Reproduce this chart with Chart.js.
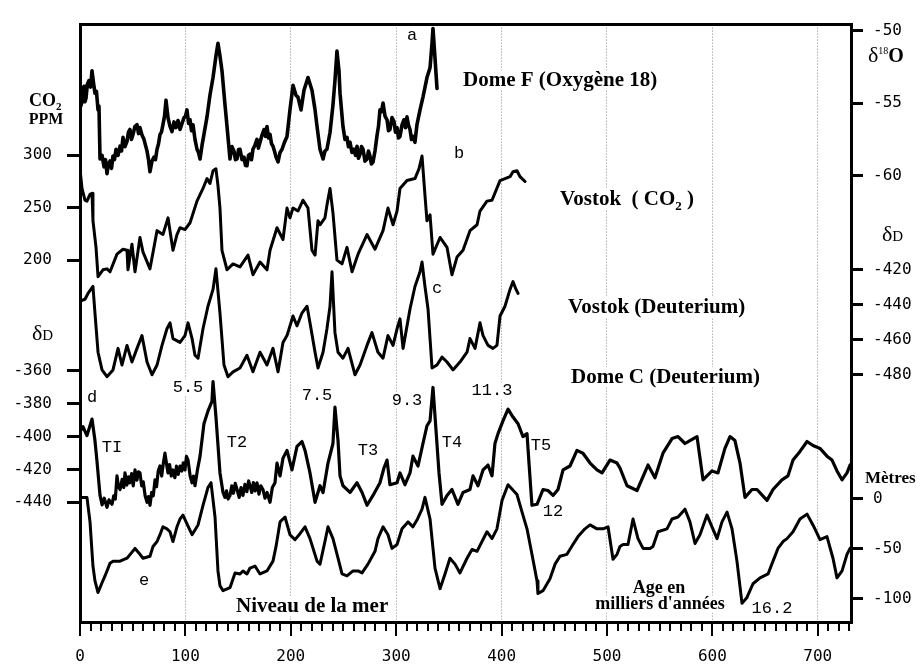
<!DOCTYPE html>
<html>
<head>
<meta charset="utf-8">
<script src="https://cdn.jsdelivr.net/npm/chart.js@4.4.1/dist/chart.umd.min.js"></script>
<style>
  html, body { margin: 0; padding: 0; background: #fff; }
  #wrap { width: 917px; height: 665px; position: relative; }
</style>
</head>
<body>
<div id="wrap"><canvas id="chart"></canvas></div>
<script>
// Series: [age in ka, value]
// a - Dome F, delta 18O (permil)
const domeF = [[0,-54.12],[0.8,-55.2],[1.9,-54.93],[2.8,-54.0],[3.8,-53.85],[4.7,-54.9],[5.7,-54.66],[7.0,-53.7],[8.5,-53.45],[10.0,-53.9],[11.4,-52.77],[12.8,-53.6],[14.2,-54.32],[15.6,-54.2],[17.1,-55.47],[18.0,-55.2],[19.0,-58.85],[20.9,-58.6],[22.8,-59.39],[24.2,-58.9],[25.6,-59.86],[27.0,-59.2],[28.5,-58.99],[29.9,-59.5],[31.3,-58.65],[32.7,-58.9],[34.2,-58.18],[36.1,-58.6],[38.0,-57.97],[39.4,-58.3],[40.8,-57.36],[42.7,-58.0],[44.6,-57.64],[46.0,-57.0],[47.4,-56.82],[48.8,-57.5],[50.3,-57.16],[52.2,-56.6],[54.1,-56.49],[55.5,-57.1],[56.9,-56.69],[58.8,-57.2],[60.7,-57.50],[62.1,-57.9],[63.6,-58.31],[65.0,-58.9],[66.4,-59.73],[68.3,-59.0],[70.2,-58.72],[71.6,-58.9],[73.1,-58.18],[74.5,-57.8],[75.9,-57.16],[77.3,-57.0],[78.7,-56.49],[80.2,-55.9],[81.6,-54.80],[83.5,-56.01],[85.4,-56.6],[87.3,-56.96],[89.2,-56.3],[91.1,-56.69],[93.0,-56.2],[94.9,-56.82],[96.8,-56.4],[98.7,-56.01],[100.1,-55.9],[101.5,-55.47],[103.0,-56.4],[104.4,-56.15],[105.8,-56.9],[107.2,-56.49],[109.1,-57.5],[111.0,-58.18],[112.4,-58.4],[113.9,-58.85],[115.8,-57.9],[117.6,-57.16],[120.5,-55.95],[123.3,-54.46],[126.2,-53.24],[129.0,-51.76],[130.9,-50.88],[132.8,-51.76],[134.7,-52.77],[137.6,-55.14],[139.5,-56.62],[142.3,-58.85],[144.2,-58.0],[146.1,-58.31],[147.5,-58.9],[149.0,-58.85],[150.4,-58.2],[151.8,-58.18],[153.7,-58.9],[155.6,-58.72],[157.0,-59.3],[158.4,-59.32],[159.9,-58.6],[161.3,-58.51],[162.7,-58.9],[164.1,-58.18],[166.0,-57.9],[167.9,-57.50],[169.3,-58.1],[170.8,-57.70],[172.7,-57.2],[174.6,-56.82],[176.0,-57.3],[177.4,-56.62],[178.9,-57.4],[180.3,-57.16],[181.7,-57.8],[183.1,-57.97],[184.5,-58.3],[186.0,-58.72],[187.9,-59.05],[189.8,-58.4],[191.7,-58.18],[194.0,-57.7],[196.4,-57.30],[199.2,-55.47],[202.1,-53.78],[204.9,-54.46],[206.8,-54.59],[209.7,-55.47],[212.5,-54.12],[216.3,-53.24],[220.1,-54.12],[223.0,-55.47],[224.9,-56.62],[227.7,-58.18],[230.6,-58.85],[232.4,-58.3],[234.3,-58.18],[237.2,-57.03],[240.0,-55.14],[241.9,-53.45],[243.8,-51.42],[245.7,-52.77],[246.7,-54.32],[249.5,-56.62],[251.4,-57.5],[253.3,-57.36],[254.7,-58.0],[256.2,-57.70],[258.0,-58.4],[259.9,-58.18],[261.4,-58.6],[262.8,-57.97],[264.2,-58.8],[265.7,-58.51],[267.1,-58.0],[268.5,-58.18],[270.4,-59.0],[272.3,-58.85],[273.7,-58.3],[275.1,-58.65],[276.5,-59.2],[278.0,-59.05],[279.9,-58.3],[281.8,-57.23],[283.2,-56.6],[284.6,-55.47],[286.0,-55.6],[287.5,-55.00],[289.4,-55.9],[291.3,-56.15],[292.7,-56.9],[294.1,-56.82],[296.0,-56.0],[297.9,-56.28],[299.3,-57.0],[300.8,-56.69],[302.2,-57.4],[303.6,-57.30],[305.5,-56.5],[307.4,-56.15],[308.8,-56.7],[310.2,-55.95],[311.6,-56.5],[313.1,-56.82],[314.5,-57.5],[315.9,-57.30],[317.8,-57.70],[319.7,-56.49],[322.6,-55.47],[325.4,-54.59],[329.2,-53.24],[332.1,-52.57],[333.9,-50.95],[334.9,-49.86],[336.8,-51.89],[338.7,-53.99]];

// b - Vostok CO2 (ppm)
const vostokCO2 = [[0,286.9],[1.9,268.2],[4.7,257.0],[6.6,256.1],[9.5,262.6],[11.4,263.6],[12.3,237.4],[15.2,212.1],[17.1,184.1],[21.8,190.7],[25.6,191.6],[28.5,188.8],[35.1,205.6],[40.8,210.3],[44.6,209.3],[45.5,190.7],[49.3,215.0],[52.2,188.8],[56.9,221.5],[59.8,207.5],[66.4,191.6],[73.1,228.0],[78.7,224.3],[83.5,240.2],[88.2,209.3],[92.0,224.3],[94.9,230.8],[99.6,229.0],[104.4,235.5],[111.0,256.1],[116.7,268.2],[120.5,277.6],[123.3,272.9],[126.2,285.0],[129.0,286.9],[130.9,271.0],[132.8,249.5],[134.7,209.3],[139.5,190.7],[145.2,196.3],[151.8,193.5],[159.4,204.7],[164.1,186.0],[170.8,198.1],[177.4,190.7],[180.3,209.3],[186.9,230.8],[192.6,219.6],[196.4,249.5],[199.2,240.2],[202.1,249.5],[206.8,246.7],[211.6,257.0],[216.3,249.5],[220.1,209.3],[223.0,204.7],[225.8,237.4],[227.7,233.6],[232.4,240.2],[234.3,252.3],[237.2,268.2],[240.0,244.9],[243.8,200.0],[248.6,196.3],[253.3,212.1],[258.1,188.8],[263.8,205.6],[272.3,224.3],[279.9,210.3],[287.5,228.0],[292.2,249.5],[297.0,233.6],[300.8,246.7],[303.6,268.2],[310.2,275.7],[317.8,277.6],[321.6,286.9],[324.5,299.1],[327.3,261.7],[329.2,237.4],[332.1,243.0],[334.9,205.6],[341.6,221.5],[348.2,212.1],[352.9,186.0],[357.7,202.8],[363.4,209.3],[370.0,228.0],[376.7,233.6],[379.5,246.7],[386.1,256.1],[390.9,257.0],[398.5,275.7],[408.0,279.4],[410.8,284.1],[414.6,285.0],[417.5,279.4],[422.2,274.8]];

// c - Vostok deuterium (permil)
const vostokDD = [[0,-437.9],[4.7,-436.8],[7.6,-433.5],[12.3,-429.5],[14.2,-444.7],[17.1,-467.1],[20.9,-477.2],[25.6,-481.1],[31.3,-477.2],[36.1,-464.9],[39.8,-474.4],[44.6,-463.2],[49.3,-472.7],[54.1,-464.9],[58.8,-457.6],[63.6,-472.7],[68.3,-480.0],[73.1,-474.4],[77.8,-463.2],[82.5,-453.7],[85.4,-450.3],[88.2,-459.3],[94.9,-461.5],[99.6,-457.6],[102.5,-450.3],[106.3,-459.3],[109.1,-468.8],[112.0,-470.5],[116.7,-453.7],[121.4,-440.8],[126.2,-431.2],[129.0,-419.4],[132.8,-444.7],[136.6,-474.4],[140.4,-481.1],[145.2,-478.3],[151.8,-476.1],[158.4,-468.8],[164.1,-478.3],[170.8,-467.1],[177.4,-474.4],[183.1,-464.9],[187.9,-478.3],[192.6,-461.5],[196.4,-457.6],[202.1,-446.4],[205.9,-452.0],[210.6,-444.7],[215.4,-440.8],[218.2,-450.3],[223.0,-467.1],[225.8,-476.1],[230.6,-467.1],[234.3,-453.7],[237.2,-440.8],[239.1,-421.1],[241.9,-455.9],[244.8,-467.1],[249.5,-470.5],[254.3,-464.9],[260.9,-480.0],[265.7,-474.4],[272.3,-463.2],[277.0,-455.9],[282.7,-467.1],[287.5,-470.5],[292.2,-457.6],[297.0,-463.2],[300.8,-453.7],[303.6,-448.0],[306.5,-464.9],[313.1,-442.4],[317.8,-429.5],[322.6,-421.1],[324.5,-415.5],[327.3,-429.5],[330.2,-442.4],[334.0,-476.1],[338.7,-474.4],[343.5,-469.9],[348.2,-472.7],[353.9,-477.2],[360.5,-472.7],[367.2,-467.1],[370.0,-459.3],[374.8,-464.9],[379.5,-450.3],[382.4,-457.6],[387.1,-463.2],[391.8,-464.9],[395.6,-463.2],[398.5,-446.4],[403.2,-440.8],[408.0,-431.2],[410.8,-426.7],[413.7,-431.2],[415.6,-433.5]];

// d - Dome C deuterium (permil)
const domeCDD = [[0,-397.0],[2.8,-394.0],[6.6,-399.4],[11.4,-389.3],[14.2,-402.4],[16.1,-414.9],[19.0,-435.8],[21.0,-441.5],[23.0,-437.5],[25.6,-443.0],[27.5,-438.5],[30.4,-441.2],[32.0,-436.0],[33.5,-438.0],[35.1,-423.9],[36.5,-430.5],[38.0,-432.2],[40.0,-426.0],[41.5,-431.0],[42.7,-422.1],[44.5,-429.5],[46.0,-424.5],[47.4,-428.1],[49.0,-422.5],[50.5,-430.0],[52.2,-420.3],[54.0,-426.5],[55.5,-421.5],[56.9,-422.1],[58.5,-430.0],[60.0,-427.5],[61.8,-436.0],[63.6,-440.0],[65.0,-436.5],[66.4,-441.8],[68.0,-434.0],[69.5,-436.0],[71.2,-426.3],[72.6,-430.5],[74.2,-421.0],[75.9,-417.9],[77.5,-424.0],[79.0,-416.5],[80.6,-410.1],[82.0,-416.0],[83.5,-422.1],[85.0,-417.0],[86.6,-424.0],[88.2,-420.3],[90.0,-425.0],[91.5,-418.0],[93.2,-423.0],[94.9,-417.9],[96.5,-421.0],[98.0,-416.0],[99.6,-420.3],[101.0,-412.0],[102.5,-414.3],[104.5,-424.0],[106.3,-428.1],[107.7,-424.0],[109.1,-429.9],[111.5,-420.0],[113.9,-411.9],[117.6,-392.2],[121.4,-384.5],[125.2,-378.5],[126.2,-366.6],[129.0,-388.1],[132.8,-422.1],[135.7,-434.0],[137.5,-437.0],[139.0,-433.0],[140.5,-438.0],[142.3,-435.8],[144.0,-430.0],[145.6,-434.5],[147.3,-428.5],[149.0,-432.2],[151.0,-437.0],[152.8,-431.0],[154.6,-435.8],[156.5,-429.0],[158.3,-433.5],[160.0,-427.0],[161.3,-429.9],[163.0,-434.0],[164.5,-428.0],[166.2,-433.0],[167.9,-428.1],[169.8,-435.0],[171.5,-430.0],[173.6,-432.2],[175.5,-437.5],[177.5,-434.0],[180.3,-440.0],[182.5,-431.0],[185.0,-428.1],[186.9,-416.1],[189.8,-423.9],[192.6,-413.1],[196.4,-408.4],[201.1,-420.3],[205.9,-406.0],[210.6,-403.0],[213.5,-408.4],[218.2,-422.1],[223.0,-440.0],[227.7,-429.9],[230.6,-434.0],[235.3,-416.1],[240.0,-404.2],[241.9,-382.1],[244.8,-402.4],[246.7,-423.9],[249.5,-429.9],[256.2,-434.0],[262.8,-428.1],[267.6,-434.0],[272.3,-441.8],[278.0,-435.8],[284.6,-428.1],[288.4,-419.1],[291.3,-414.3],[294.1,-429.3],[300.8,-428.1],[303.6,-422.1],[308.3,-429.3],[313.1,-422.1],[315.9,-411.9],[320.7,-417.9],[325.4,-404.2],[329.2,-393.4],[332.1,-390.4],[334.9,-370.1],[337.8,-396.4],[340.6,-422.1],[343.5,-441.2],[348.2,-435.8],[352.9,-432.2],[358.6,-441.2],[363.4,-434.0],[370.0,-432.2],[372.9,-423.9],[377.6,-429.9],[382.4,-420.3],[387.1,-417.3],[390.9,-423.9],[393.7,-404.2],[396.6,-398.2],[401.3,-390.4],[406.1,-383.3],[410.8,-388.1],[415.6,-392.2],[420.3,-400.0],[424.1,-398.2],[426.0,-416.1],[428.8,-441.8],[433.6,-441.2],[439.3,-432.2],[444.0,-432.8],[448.8,-435.8],[453.5,-432.2],[458.3,-420.3],[464.9,-417.9],[471.5,-408.4],[477.2,-410.1],[483.9,-416.1],[490.5,-420.3],[495.3,-422.1],[502.8,-414.3],[509.5,-416.1],[512.3,-419.1],[519.0,-429.9],[528.5,-432.8],[538.9,-417.3],[545.5,-425.1],[553.1,-410.1],[561.7,-401.2],[567.4,-400.0],[574.0,-404.2],[578.7,-402.4],[585.4,-400.0],[591.1,-426.3],[599.6,-420.9],[605.3,-422.1],[611.9,-407.2],[616.7,-400.0],[621.4,-402.4],[626.2,-416.1],[630.9,-437.0],[637.6,-432.2],[642.3,-432.2],[651.8,-438.8],[657.5,-432.2],[666.0,-426.3],[671.7,-423.9],[676.5,-414.3],[683.1,-409.0],[689.8,-403.0],[695.4,-405.4],[702.1,-407.2],[708.7,-411.9],[713.5,-414.3],[718.2,-420.9],[723.0,-426.3],[727.7,-422.1],[730.6,-417.3]];

// e - sea level (m)
const seaLevel = [[0,1.0],[6.6,1.0],[9.5,-23.5],[12.3,-67.6],[14.2,-82.4],[17.1,-94.1],[20.9,-84.3],[23.7,-77.5],[25.6,-72.5],[28.5,-64.7],[31.3,-62.7],[38.0,-62.7],[44.6,-59.8],[48.4,-54.9],[52.2,-50.0],[56.9,-55.9],[59.8,-59.8],[66.4,-57.8],[69.3,-48.0],[73.1,-43.1],[75.9,-36.3],[78.7,-28.4],[82.5,-30.4],[85.4,-33.3],[88.2,-43.1],[92.0,-28.4],[94.9,-20.6],[97.7,-16.7],[101.5,-25.5],[106.3,-36.3],[112.0,-26.5],[116.7,-6.9],[121.4,10.8],[124.3,15.7],[128.1,-18.6],[130.9,-72.5],[132.8,-87.3],[135.7,-92.2],[142.3,-89.2],[147.1,-74.5],[151.8,-75.5],[154.6,-72.5],[158.4,-75.5],[161.3,-69.6],[166.0,-67.6],[170.8,-75.5],[177.4,-72.5],[183.1,-62.7],[186.0,-48.0],[189.8,-23.5],[194.5,-18.6],[199.2,-36.3],[204.0,-41.2],[208.7,-35.3],[213.5,-28.4],[218.2,-40.2],[224.9,-62.7],[227.7,-65.7],[232.4,-43.1],[235.3,-28.4],[240.0,-40.2],[244.8,-59.8],[248.6,-75.5],[253.3,-77.5],[259.0,-72.5],[263.8,-72.5],[267.6,-74.5],[273.2,-65.7],[279.9,-52.9],[282.7,-40.2],[287.5,-28.4],[292.2,-36.3],[296.0,-50.0],[300.8,-46.1],[305.5,-30.4],[311.2,-23.5],[315.9,-28.4],[319.7,-21.6],[324.5,-10.8],[327.3,1.0],[332.1,-20.6],[336.8,-69.6],[341.6,-90.2],[346.3,-75.5],[351.0,-59.8],[355.8,-65.7],[360.5,-74.5],[367.2,-59.8],[371.9,-51.0],[376.7,-52.9],[381.4,-43.1],[386.1,-33.3],[390.9,-40.2],[395.6,-30.4],[400.4,-2.0],[406.1,13.7],[414.6,3.9],[419.4,-13.7],[424.1,-30.4],[428.8,-55.9],[433.6,-82.4],[434.5,-95.1],[439.3,-92.2],[445.9,-80.4],[450.7,-65.7],[455.4,-57.8],[462.0,-55.9],[467.7,-46.1],[472.5,-38.2],[479.1,-30.4],[483.9,-26.5],[490.5,-30.4],[496.2,-30.4],[501.0,-28.4],[505.7,-60.8],[509.5,-55.9],[512.3,-48.0],[515.2,-46.1],[519.9,-46.1],[524.7,-20.6],[529.4,-40.2],[534.2,-50.0],[540.8,-50.0],[543.6,-48.0],[548.4,-33.3],[556.9,-30.4],[561.7,-20.6],[567.4,-18.6],[574.0,-10.8],[578.7,-23.5],[583.5,-45.1],[588.2,-36.3],[594.9,-16.7],[599.6,-28.4],[604.4,-40.2],[609.1,-23.5],[613.9,-13.7],[618.6,-30.4],[623.3,-62.7],[628.1,-104.9],[632.8,-99.0],[638.5,-85.3],[645.2,-79.4],[652.8,-75.5],[657.5,-62.7],[662.2,-50.0],[667.0,-43.1],[670.8,-40.2],[676.5,-33.3],[683.1,-20.6],[689.8,-15.7],[695.4,-26.5],[702.1,-41.2],[708.7,-38.2],[714.4,-59.8],[718.2,-79.4],[723.0,-72.5],[727.7,-55.9],[730.6,-50.0]];

// tick values
const ageTicks = [0, 100, 200, 300, 400, 500, 600, 700];
const co2Ticks = [300, 250, 200];
const domeCTicks = [-360, -380, -400, -420, -440];
const o18Ticks = [-50, -55, -60];
const vostokDTicks = [-420, -440, -460, -480];
const seaTicks = [0, -50, -100];

const AGE_MAX = 731.5;
const AREA = { top: 13, bottom: 622 };

// the curves are stacked, so each y scale is placed by two reference pixels
function axisRange(v1, p1, v2, p2) {
  const ppu = (p2 - p1) / (v1 - v2);
  return { min: v1 - (AREA.bottom - p1) / ppu, max: v1 + (p1 - AREA.top) / ppu };
}

const monoFont = { family: 'DejaVu Sans Mono', size: 16 };

function yAxis(position, tickValues, range, showBorder) {
  const left = position === 'left';
  return {
    type: 'linear', axis: 'y', position: position,
    min: range.min, max: range.max,
    afterFit: s => { s.width = 0; },
    afterBuildTicks: s => { s.ticks = tickValues.map(v => ({ value: v })); },
    grid: { drawOnChartArea: false, tickLength: left ? 13 : 12, lineWidth: 3, color: '#000' },
    border: { display: showBorder, width: 3, color: '#000' },
    ticks: { padding: left ? 15 : 10, color: '#000', font: monoFont, autoSkip: false, callback: v => String(v) }
  };
}

function xAxis(extra) {
  return Object.assign({
    type: 'linear', axis: 'x', position: 'bottom', min: 0, max: AGE_MAX,
    afterFit: s => { s.height = 0; }
  }, extra);
}

// text drawn on top of the plot
const serifB = size => 'bold ' + size + 'px "Liberation Serif"';
const serif = size => size + 'px "Liberation Serif"';
const courier = '17px "Liberation Mono"';

const notes = [
  { x: 463, y: 86, size: 21, runs: [{ t: 'Dome F (Oxygène 18)', f: serifB(21) }] },
  { x: 560, y: 205, size: 21, runs: [{ t: 'Vostok  ( CO', f: serifB(21) }, { t: '2', f: serifB(13), dy: 5 }, { t: ' )', f: serifB(21) }] },
  { x: 568, y: 313, size: 21, runs: [{ t: 'Vostok (Deuterium)', f: serifB(21) }] },
  { x: 571, y: 383, size: 21, runs: [{ t: 'Dome C (Deuterium)', f: serifB(21) }] },
  { x: 236, y: 612, size: 21, runs: [{ t: 'Niveau de la mer', f: serifB(21) }] },
  { x: 659, y: 593, size: 18, align: 'center', runs: [{ t: 'Age en', f: serifB(18) }] },
  { x: 660, y: 609, size: 18, align: 'center', runs: [{ t: "milliers d'années", f: serifB(18) }] },
  { x: 412, y: 40, size: 17, align: 'center', runs: [{ t: 'a', f: courier }] },
  { x: 459, y: 158, size: 17, align: 'center', runs: [{ t: 'b', f: courier }] },
  { x: 437, y: 293, size: 17, align: 'center', runs: [{ t: 'c', f: courier }] },
  { x: 92, y: 402, size: 17, align: 'center', runs: [{ t: 'd', f: courier }] },
  { x: 144, y: 585, size: 17, align: 'center', runs: [{ t: 'e', f: courier }] },
  { x: 188, y: 392, size: 17, align: 'center', runs: [{ t: '5.5', f: courier }] },
  { x: 317, y: 400, size: 17, align: 'center', runs: [{ t: '7.5', f: courier }] },
  { x: 407, y: 405, size: 17, align: 'center', runs: [{ t: '9.3', f: courier }] },
  { x: 492, y: 395, size: 17, align: 'center', runs: [{ t: '11.3', f: courier }] },
  { x: 553, y: 516, size: 17, align: 'center', runs: [{ t: '12', f: courier }] },
  { x: 772, y: 613, size: 17, align: 'center', runs: [{ t: '16.2', f: courier }] },
  { x: 112, y: 452, size: 17, align: 'center', runs: [{ t: 'TI', f: courier }] },
  { x: 237, y: 447, size: 17, align: 'center', runs: [{ t: 'T2', f: courier }] },
  { x: 368, y: 455, size: 17, align: 'center', runs: [{ t: 'T3', f: courier }] },
  { x: 452, y: 447, size: 17, align: 'center', runs: [{ t: 'T4', f: courier }] },
  { x: 541, y: 450, size: 17, align: 'center', runs: [{ t: 'T5', f: courier }] }
];

// axis titles outside the plot area
const axisTitles = [
  { x: 29, y: 106, runs: [{ t: 'CO', f: serifB(18) }, { t: '2', f: serifB(11), dy: 4 }] },
  { x: 46, y: 124, align: 'center', runs: [{ t: 'PPM', f: serifB(16) }] },
  { x: 32, y: 340, runs: [{ t: 'δ', f: serif(22) }, { t: 'D', f: serif(15) }] },
  { x: 868, y: 62, runs: [{ t: 'δ', f: serif(22) }, { t: '18', f: serif(10), dy: -8 }, { t: 'O', f: serifB(20) }] },
  { x: 882, y: 241, runs: [{ t: 'δ', f: serif(22) }, { t: 'D', f: serif(15) }] },
  { x: 865, y: 483, runs: [{ t: 'Mètres', f: serifB(17) }] }
];

function runsWidth(ctx, runs) {
  let w = 0;
  runs.forEach(r => { ctx.font = r.f; w += ctx.measureText(r.t).width; });
  return w;
}

function startX(ctx, item) {
  const w = runsWidth(ctx, item.runs);
  return item.align === 'center' ? item.x - w / 2 : item.x;
}

function drawRuns(ctx, item) {
  let x = startX(ctx, item);
  ctx.fillStyle = '#000';
  ctx.textAlign = 'left';
  ctx.textBaseline = 'alphabetic';
  item.runs.forEach(r => {
    ctx.font = r.f;
    ctx.fillText(r.t, x, item.y + (r.dy || 0));
    x += ctx.measureText(r.t).width;
  });
}

const textPlugin = {
  id: 'figureText',
  afterLayout(chart) {
    // the axes take no room in the layout; widen their boxes again so the
    // tick labels are not clipped away
    Object.values(chart.scales).forEach(s => {
      if (s.options.position === 'left') s.left = 0;
      else if (s.options.position === 'right') s.right = chart.width;
      else if (s.options.position === 'bottom') s.bottom = chart.height;
    });
  },
  beforeDatasetsDraw(chart) {
    // white boxes hide the dotted grid behind the labels
    const ctx = chart.ctx;
    ctx.save();
    ctx.fillStyle = '#fff';
    notes.forEach(n => {
      const w = runsWidth(ctx, n.runs);
      const x = startX(ctx, n);
      ctx.fillRect(x - 2, n.y - n.size * 0.75, w + 4, n.size * 0.95);
    });
    ctx.restore();
  },
  afterDatasetsDraw(chart) {
    const ctx = chart.ctx;
    ctx.save();
    notes.forEach(n => drawRuns(ctx, n));
    axisTitles.forEach(n => drawRuns(ctx, n));
    ctx.restore();
  }
};

function line(points, axisId, width) {
  return {
    data: points.map(p => ({ x: p[0], y: p[1] })),
    xAxisID: 'x',
    yAxisID: axisId,
    borderColor: '#000',
    borderWidth: width,
    pointRadius: 0,
    tension: 0,
    fill: false,
    borderJoinStyle: 'round',
    borderCapStyle: 'round'
  };
}

const ctx = document.getElementById('chart').getContext('2d');
new Chart(ctx, {
  type: 'line',
  data: {
    datasets: [
      line(domeF, 'yO18', 3.6),
      line(vostokCO2, 'yCO2', 3),
      line(vostokDD, 'yVostokD', 3),
      line(domeCDD, 'yDomeC', 3.2),
      line(seaLevel, 'ySea', 3)
    ]
  },
  options: {
    responsive: true,
    maintainAspectRatio: false,
    animation: false,
    devicePixelRatio: 1,
    events: [],
    layout: { padding: { left: 80, right: 66, top: 13, bottom: 43 } },
    plugins: { legend: { display: false }, tooltip: { enabled: false } },
    scales: {
      x: xAxis({
        afterBuildTicks: s => { s.ticks = ageTicks.map(v => ({ value: v })); },
        grid: { drawOnChartArea: false, tickLength: 14, lineWidth: 2, color: '#000' },
        border: { display: true, width: 3, color: '#000' },
        ticks: { padding: 11, color: '#000', font: monoFont, maxRotation: 0, autoSkip: false, callback: v => String(v) }
      }),
      xMinor: xAxis({
        afterBuildTicks: s => { s.ticks = Array.from({ length: 74 }, (_, i) => ({ value: i * 10 })); },
        grid: { drawOnChartArea: false, tickLength: 9, lineWidth: 2, color: '#000' },
        border: { display: false },
        ticks: { display: false }
      }),
      xGrid: xAxis({
        afterBuildTicks: s => { s.ticks = ageTicks.filter(v => v > 0).map(v => ({ value: v })); },
        grid: { drawOnChartArea: true, drawTicks: false, lineWidth: 1, color: '#8a8a8a' },
        border: { display: false, dash: [1, 2] },
        ticks: { display: false }
      }),
      xTop: xAxis({
        position: 'top',
        grid: { display: false },
        border: { display: true, width: 3, color: '#000' },
        ticks: { display: false }
      }),
      yCO2: yAxis('left', co2Ticks, axisRange(300, 146, 200, 253), true),
      yDomeC: yAxis('left', domeCTicks, axisRange(-360, 366, -440, 500), false),
      yO18: yAxis('right', o18Ticks, axisRange(-50, 19, -60, 167), true),
      yVostokD: yAxis('right', vostokDTicks, axisRange(-420, 263, -480, 370), false),
      ySea: yAxis('right', seaTicks, axisRange(0, 496, -100, 598), false)
    }
  },
  plugins: [textPlugin]
});
</script>
</body>
</html>
